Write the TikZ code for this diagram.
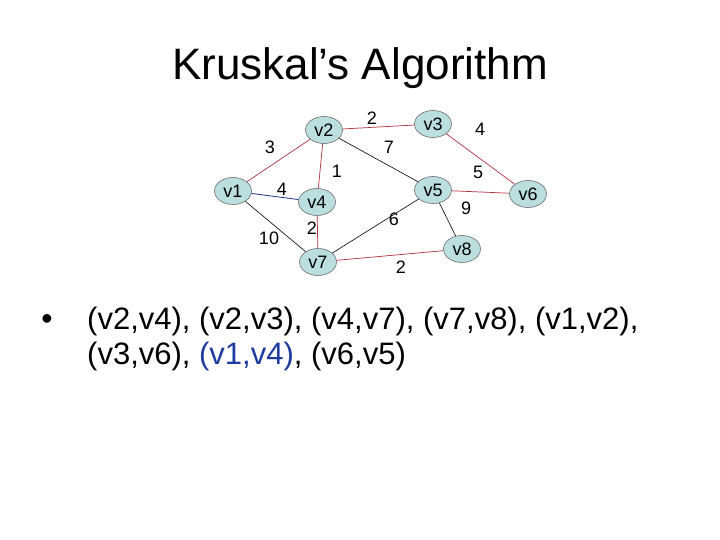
\documentclass[tikz,border=0pt]{standalone}
\usepackage{fontspec}
\setmainfont{Liberation Sans}
\usetikzlibrary{shapes.geometric}
\definecolor{nodefill}{RGB}{187,222,222}
\definecolor{nodeedge}{RGB}{110,110,110}
\definecolor{mstred}{RGB}{176,48,60}
\definecolor{navy}{RGB}{30,50,130}
\definecolor{txtblue}{RGB}{30,60,160}
\tikzset{
  vert/.style={ellipse, draw=nodeedge, fill=nodefill, line width=0.6pt, minimum width=37pt, minimum height=27pt, inner sep=0pt, font=\fontsize{18}{18}\selectfont},
  wlab/.style={font=\fontsize{18}{18}\selectfont, inner sep=0pt},
  redge/.style={draw=mstred, line width=0.7pt},
  bedge/.style={draw=black, line width=0.6pt},
  nedge/.style={draw=navy, line width=0.8pt}
}
\begin{document}
\begin{tikzpicture}[x=1pt,y=-1pt]
\useasboundingbox (0,0) rectangle (720,540);
\fill[white] (0,0) rectangle (720,540);
\node[font=\fontsize{44}{44}\selectfont, inner sep=0pt] (title) at (360,68) {Kruskal’s Algorithm};
% vertices
\node[vert] (v1) at (233,191) {v1};
\node[vert] (v2) at (324,130) {v2};
\node[vert] (v3) at (433,124) {v3};
\node[vert] (v4) at (317,202) {v4};
\node[vert] (v5) at (433,190) {v5};
\node[vert] (v6) at (528,194) {v6};
\node[vert] (v7) at (318,262) {v7};
\node[vert] (v8) at (462,249) {v8};
% edges
\path[redge] (v1) -- (v2);
\path[redge] (v2) -- (v3);
\path[redge] (v2) -- (v4);
\path[redge] (v4) -- (v7);
\path[redge] (v7) -- (v8);
\path[redge] (v3) -- (v6);
\path[redge] (v5) -- (v6);
\path[nedge] (v1) -- (v4);
\path[bedge] (v1) -- (v7);
\path[bedge] (v2) -- (v5);
\path[bedge] (v7) -- (v5);
\path[bedge] (v5) -- (v8);
% weights
\node[wlab] (w23) at (372,118) {2};
\node[wlab] (w12) at (270,147) {3};
\node[wlab] (w24) at (337,171) {1};
\node[wlab] (w14) at (282,189) {4};
\node[wlab] (w47) at (312,228) {2};
\node[wlab] (w17) at (269,238) {10};
\node[wlab] (w25) at (389,147) {7};
\node[wlab] (w36) at (480,129) {4};
\node[wlab] (w56) at (478,172) {5};
\node[wlab] (w58) at (466,208) {9};
\node[wlab] (w57) at (394,219) {6};
\node[wlab] (w78) at (401,267) {2};
% bullet text
\node[font=\fontsize{32}{32}\selectfont, inner sep=0pt] (bul) at (47,322) {•};
\node[font=\fontsize{31}{35}\selectfont, anchor=north west, inner sep=0pt, align=left] (txt) at (87,307)
  {(v2,v4), (v2,v3), (v4,v7), (v7,v8), (v1,v2),\\(v3,v6), \textcolor{txtblue}{(v1,v4)}, (v6,v5)};
\end{tikzpicture}
\end{document}
